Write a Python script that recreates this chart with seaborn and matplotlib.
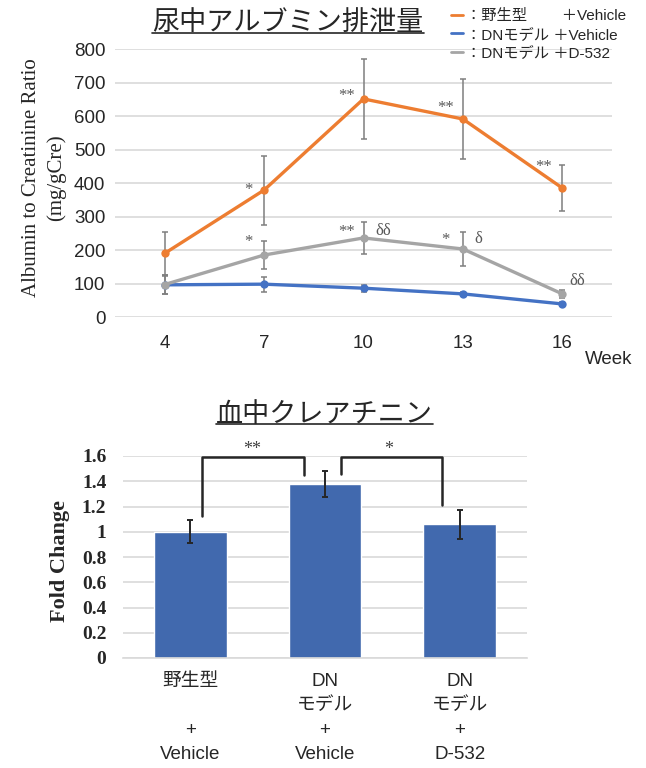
import numpy as np
import pandas as pd
import matplotlib
matplotlib.use("Agg")
import matplotlib.pyplot as plt
import seaborn as sns
from matplotlib.lines import Line2D

# Data: urine albumin (top) and blood creatinine (bottom)
weeks = [4, 7, 10, 13, 16]
groups = ["野生型 +Vehicle", "DNモデル +Vehicle", "DNモデル +D-532"]
wt_mean = [190, 379, 651, 591, 385]
wt_err = [65, 103, 119, 120, 69]
dn_mean = [96, 98, 86, 69, 39]
dn_err = [27, 22, 10, 5, 7]
d532_mean = [97, 185, 236, 203, 69]
d532_err = [28, 42, 48, 52, 12]

legend_labels = ["：野生型　　 ＋Vehicle", "：DNモデル ＋Vehicle", "：DNモデル ＋D-532"]

# significance marks (x, y, text)
wt_marks = [(6.52, 378, "*"), (9.48, 659, "**"), (12.48, 623, "**"), (15.42, 447, "**")]
d532_marks = [(6.52, 223, "*"), (9.48, 253, "**"), (10.6, 258, "δδ"),
              (12.48, 229, "*"), (13.48, 234, "δ"), (16.45, 108, "δδ")]

bar_labels = ["野生型\n\n+\nVehicle", "DN\nモデル\n+\nVehicle", "DN\nモデル\n+\nD-532"]
fold_change = [1.0, 1.378, 1.061]
fold_err = [0.09, 0.10, 0.115]

colors = ["#ED7D31", "#4472C4", "#A5A5A5"]
bar_color = "#4169AE"

sns.set_style("white")
plt.rcParams["font.family"] = ["Liberation Sans", "Noto Sans CJK JP", "DejaVu Sans"]

fig = plt.figure(figsize=(6.46, 7.68), dpi=100)

# ---------- top: line chart ----------
ax1 = fig.add_axes([115 / 646, 1 - 317 / 768, 497 / 646, 268 / 768])

df = pd.DataFrame({
    "week": weeks * 3,
    "value": wt_mean + dn_mean + d532_mean,
    "group": [groups[0]] * 5 + [groups[1]] * 5 + [groups[2]] * 5,
})
sns.lineplot(data=df, x="week", y="value", hue="group", palette=colors,
             marker="o", markersize=6, markeredgewidth=0, linewidth=2.4,
             legend=False, ax=ax1, clip_on=False, zorder=3)

for m, e in [(wt_mean, wt_err), (dn_mean, dn_err), (d532_mean, d532_err)]:
    ax1.errorbar(weeks, m, yerr=e, fmt="none", ecolor="#7F7F7F", elinewidth=1.1,
                 capsize=2.5, capthick=1.1, zorder=2, clip_on=False)

for x, y, t in wt_marks + d532_marks:
    ax1.text(x, y, t, ha="center", va="center", fontsize=12, color="#595959",
             family="Liberation Serif")

ax1.set_xlim(2.5, 17.5)
ax1.set_ylim(0, 800)
ax1.set_xticks(weeks)
ax1.set_yticks(range(0, 801, 100))
ax1.yaxis.grid(True, color="#D9D9D9", linewidth=1.2)
ax1.set_axisbelow(True)
sns.despine(ax=ax1, left=True, bottom=True)
ax1.tick_params(axis="both", length=0, labelsize=13.5, colors="#262626")
ax1.tick_params(axis="x", pad=13)
ax1.tick_params(axis="y", pad=7)
ax1.set_xlabel("")
ax1.set_ylabel("Albumin to Creatinine Ratio\n(mg/gCre)", family="Liberation Serif",
               fontsize=15, color="#262626", linespacing=1.35)
ax1.yaxis.set_label_coords(-0.098, 0.52)

fig.text(585 / 646, 1 - 360 / 768, "Week", ha="left", va="center", fontsize=13.5,
         color="#262626")

handles = [Line2D([], [], color=c, linewidth=2) for c in colors]
fig.legend(handles, legend_labels, loc="upper left", bbox_to_anchor=(451 / 646, 1 - 9 / 768),
           frameon=False, fontsize=11, handlelength=0.8, handletextpad=0.2,
           labelspacing=0.3, borderpad=0, borderaxespad=0)

# ---------- bottom: bar chart ----------
ax2 = fig.add_axes([123 / 646, 1 - 658 / 768, 404 / 646, 202 / 768])
sns.barplot(x=bar_labels, y=fold_change, color=bar_color, width=0.54,
            saturation=1, ax=ax2, zorder=2)
ax2.errorbar(range(3), fold_change, yerr=fold_err, fmt="none", ecolor="#262626",
             elinewidth=1.4, capsize=2.5, capthick=1.4, zorder=3)

# significance brackets
bracket_color = "#262626"
ax2.plot([0.09, 0.09, 0.845, 0.845], [1.125, 1.59, 1.59, 1.45], color=bracket_color,
         lw=1.8, clip_on=False)
ax2.plot([1.12, 1.12, 1.87, 1.87], [1.46, 1.59, 1.59, 1.21], color=bracket_color,
         lw=1.8, clip_on=False)
ax2.text(0.46, 1.655, "**", ha="center", va="center", fontsize=13, color="#404040",
         family="Liberation Serif")
ax2.text(1.47, 1.655, "*", ha="center", va="center", fontsize=13, color="#404040",
         family="Liberation Serif")

ax2.set_xlim(-0.5, 2.5)
ax2.set_ylim(0, 1.6)
ax2.set_yticks(np.arange(0, 1.61, 0.2))
ax2.set_yticklabels(["0", "0.2", "0.4", "0.6", "0.8", "1", "1.2", "1.4", "1.6"])
ax2.yaxis.grid(True, color="#D9D9D9", linewidth=1.2)
ax2.set_axisbelow(True)
sns.despine(ax=ax2, left=True)
ax2.spines["bottom"].set_color("#D9D9D9")
ax2.spines["bottom"].set_linewidth(1.2)
ax2.set_xticks([-0.5, 0.5, 1.5, 2.5], minor=True)
ax2.tick_params(axis="x", which="minor", length=4, color="#D9D9D9", direction="out")
ax2.tick_params(axis="x", which="major", length=0, labelsize=13.5, colors="#262626", pad=11)
ax2.tick_params(axis="y", length=0, pad=12)
for lab in ax2.get_xticklabels():
    lab.set_linespacing(1.55)
for lab in ax2.get_yticklabels():
    lab.set_family("Liberation Serif")
    lab.set_fontweight("bold")
    lab.set_fontsize(14)
    lab.set_color("#262626")
ax2.set_ylabel("Fold Change", family="Liberation Serif", fontweight="bold", fontsize=16,
               color="#262626")
ax2.yaxis.set_label_coords(-0.13, 0.48)

# ---------- titles with underline ----------
t1 = fig.text(288 / 646, 1 - 23 / 768, "尿中アルブミン排泄量", ha="center", va="center",
              fontsize=19.5, family=["Noto Sans CJK JP"], color="#262626")
t2 = fig.text(324 / 646, 1 - 414 / 768, "血中クレアチニン", ha="center", va="center",
              fontsize=19.5, family=["Noto Sans CJK JP"], color="#262626")
fig.canvas.draw()
r = fig.canvas.get_renderer()
for t in (t1, t2):
    bb = t.get_window_extent(r).transformed(fig.transFigure.inverted())
    fig.add_artist(Line2D([bb.x0, bb.x1], [bb.y0 + 0.004, bb.y0 + 0.004],
                          color="#262626", lw=1.2, transform=fig.transFigure))

fig.savefig("out.png", dpi=100)
